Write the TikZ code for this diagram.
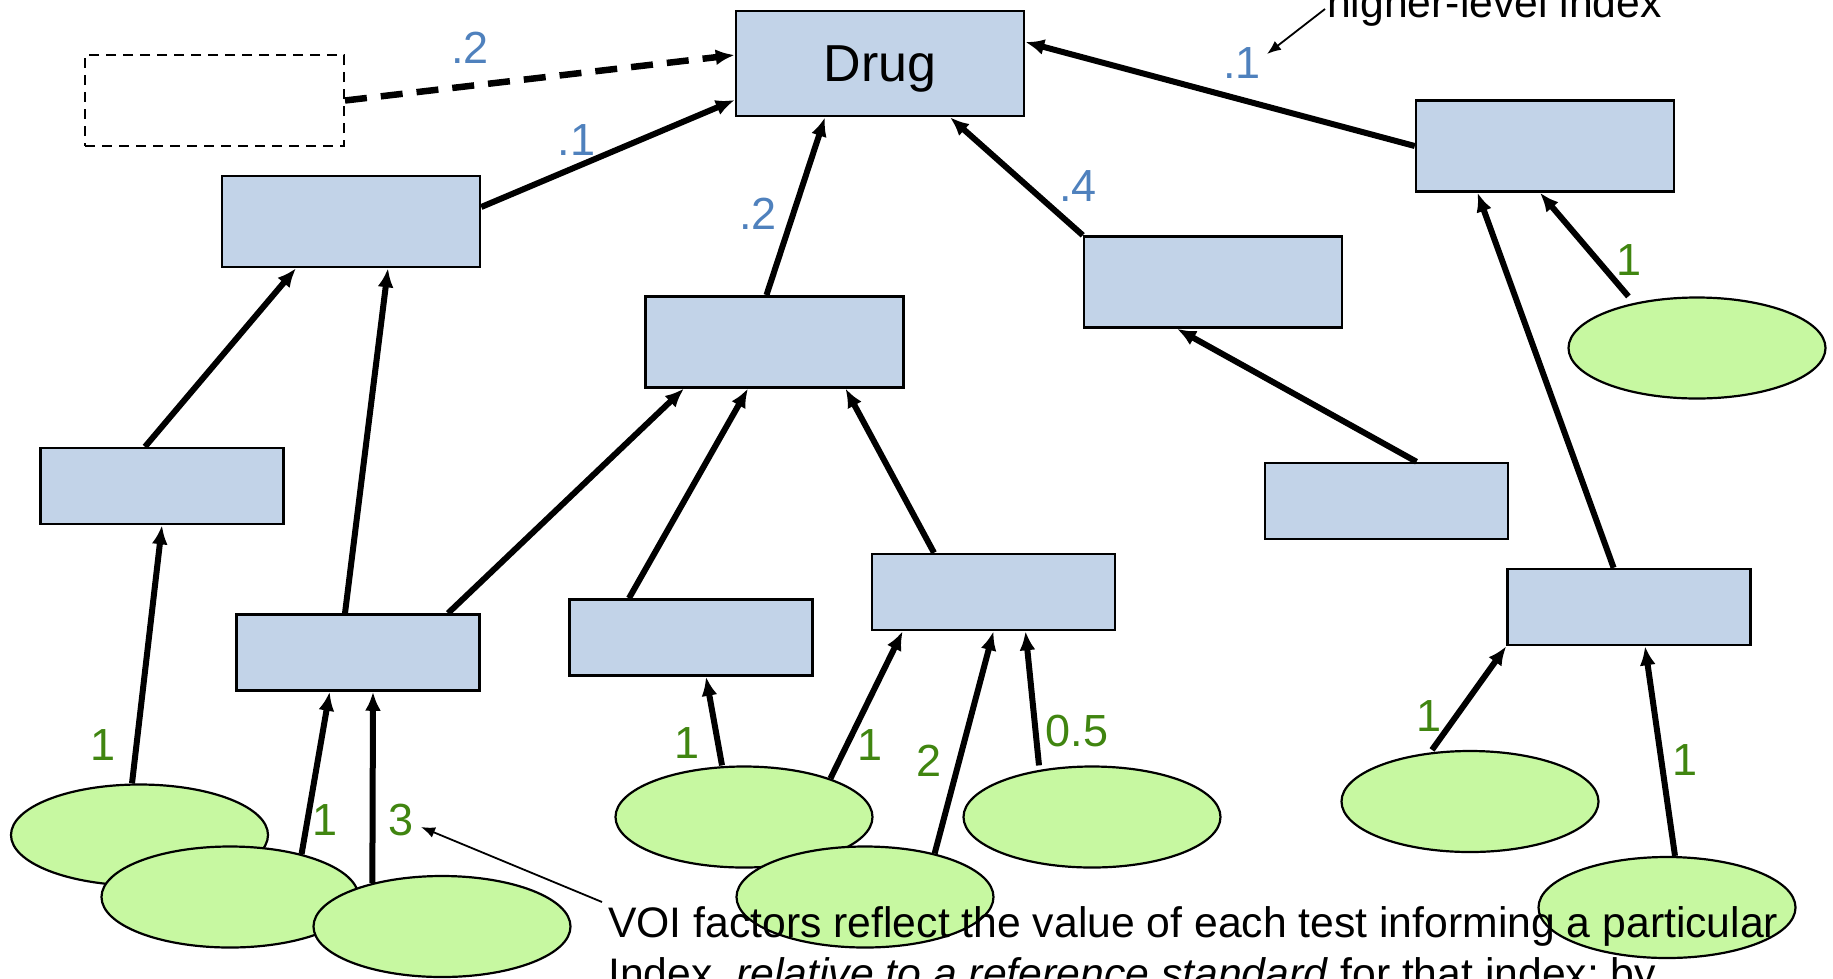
\documentclass[tikz,border=0pt]{standalone}
\usepackage{fontspec}
\setmainfont{Liberation Sans}
\usetikzlibrary{
        arrows.meta,
        shapes.geometric
    }
\definecolor{idxfill}{RGB}{194,211,232}
\definecolor{testfill}{RGB}{199,248,161}
\definecolor{wblue}{RGB}{79,129,189}
\definecolor{vgreen}{RGB}{64,133,16}
\tikzset{>={Latex[length=19pt,width=16pt]}}
\tikzset{
    index/.style={draw,line width=2.5pt,fill=idxfill,minimum width=258pt,minimum height=91pt,inner sep=0pt},
    subindex/.style={index,minimum width=243pt,minimum height=76pt},
    test/.style={ellipse,draw,line width=2.2pt,fill=testfill,minimum width=257pt,minimum height=101pt,inner sep=0pt},
    weight/.style={text=wblue,font=\fontsize{45}{54}\selectfont,inner sep=0pt},
    voi/.style={text=vgreen,font=\fontsize{45}{54}\selectfont,inner sep=0pt},
    note/.style={font=\fontsize{42.7}{51}\selectfont,inner sep=0pt,anchor=base west},
    link/.style={->,line width=6pt},
    pointer/.style={-{Latex[length=14pt,width=11pt]},line width=1.8pt}
}

\begin{document}
\begin{tikzpicture}[x=1pt,y=-1pt]
        \path[use as bounding box,clip] (0,0) rectangle (1833,978);
        % indices
        \node[index,minimum width=288pt,minimum height=105pt,text depth=0pt,
              font=\fontsize{52}{62}\selectfont] (drug) at (880,63.5) {Drug};
        \node[draw,line width=2pt,dash pattern=on 10pt off 7pt,
              minimum width=259pt,minimum height=91pt] (dummy) at (214.5,100.5) {};
        \node[index] (ia) at (351,221.5) {};
        \node[index] (ib) at (774.5,341.75) {};
        \node[index] (ic) at (1213,282) {};
        \node[index] (id) at (1545,146) {};
        \node[subindex] (ie) at (162,486) {};
        \node[subindex] (if) at (358,652.5) {};
        \node[subindex] (ig) at (691,637.5) {};
        \node[subindex] (ih) at (993.5,592) {};
        \node[subindex] (ii) at (1386.5,501) {};
        \node[subindex] (ij) at (1629,607) {};
        % tests
        \node[test] (t1) at (139.5,835) {};
        \node[test] (t2) at (230,897) {};
        \node[test] (t3) at (442,926.5) {};
        \node[test] (t4) at (744,817) {};
        \node[test] (t5) at (865,897) {};
        \node[test] (t6) at (1092,817) {};
        \node[test] (t7) at (1470,801.5) {};
        \node[test] (t8) at (1697,348) {};
        \node[test] (t9) at (1667,907.5) {};
        \path[link]
            (dummy.east) edge[line width=6.5pt,dash pattern=on 22pt off 14pt] ([yshift=8.5pt]drug.west)
            ([yshift=14.5pt]ia.east) edge ([yshift=-36.5pt]drug.west)
            ([xshift=-8pt]ib.north) edge ([xshift=-55pt]drug.south)
            (ic.north west) edge ([xshift=70pt]drug.south)
            (id.west) edge ([yshift=21.5pt]drug.east)
            ([xshift=-17pt]ie.north) edge ([xshift=-55pt]ia.south)
            ([xshift=-13pt]if.north) edge ([xshift=37pt]ia.south)
            ([xshift=90pt]if.north) edge ([xshift=-90.5pt]ib.south)
            ([xshift=-62pt]ig.north) edge ([xshift=-26.5pt]ib.south)
            ([xshift=-59.5pt]ih.north) edge ([xshift=71pt]ib.south)
            ([xshift=30pt]ii.north) edge ([xshift=-36pt]ic.south)
            ([xshift=-15.4pt]ij.north) edge ([xshift=-67.5pt]id.south)
            ([xshift=-68.6pt]t8.north) edge ([xshift=-5pt]id.south)
            ([xshift=-7.5pt]t1.north) edge (ie.south)
            (t2.31) edge ([xshift=-28.3pt]if.south)
            (t3.148) edge ([xshift=15pt]if.south)
            ([xshift=-22pt]t4.north) edge ([xshift=15pt]ig.south)
            (t4.24) edge ([xshift=-90.8pt]ih.south)
            (t5.32) edge (ih.south)
            ([xshift=-53pt]t6.north) edge ([xshift=32pt]ih.south)
            ([xshift=-38pt]t7.north) edge (ij.south west)
            ([xshift=8pt]t9.north) edge ([xshift=16pt]ij.south)
        ;
        % weights
        \node[weight] (wdummy) at (470,48) {.2};
        \node[weight] (wa) at (576.5,140) {.1};
        \node[weight] (wb) at (758,214) {.2};
        \node[weight] (wc) at (1078,186) {.4};
        \node[weight] (wd) at (1242,63) {.1};
        \node[voi] (v8) at (1629,260) {1};
        \node[voi] (v1) at (103,745) {1};
        \node[voi] (v2) at (325,820) {1};
        \node[voi] (v3) at (401,820) {3};
        \node[voi] (v4a) at (687,743) {1};
        \node[voi] (v4b) at (870.5,745) {1};
        \node[voi] (v5) at (929.5,760.7) {2};
        \node[voi] (v6) at (1077,731) {0.5};
        \node[voi] (v7) at (1428.6,715.7) {1};
        \node[voi] (v9) at (1685.4,760) {1};
        % notes
        \node[note] (higher) at (1327,17) {higher-level index};
        \coordinate (higherend) at (1267,54);
        \draw[pointer] ([xshift=-2pt,yshift=8pt]higher.base west) -- (higherend);
        \node[note] (voinote) at (608,937) {VOI factors reflect the value of each test informing a particular};
        \node[note] (voinote2) at (608,988) {Index, \textit{relative to a reference standard} for that index; by};
        \coordinate (voiend) at (421,827);
        \draw[pointer] ([xshift=-6pt,yshift=35pt]voinote.base west) -- (voiend);
\end{tikzpicture}
\end{document}
